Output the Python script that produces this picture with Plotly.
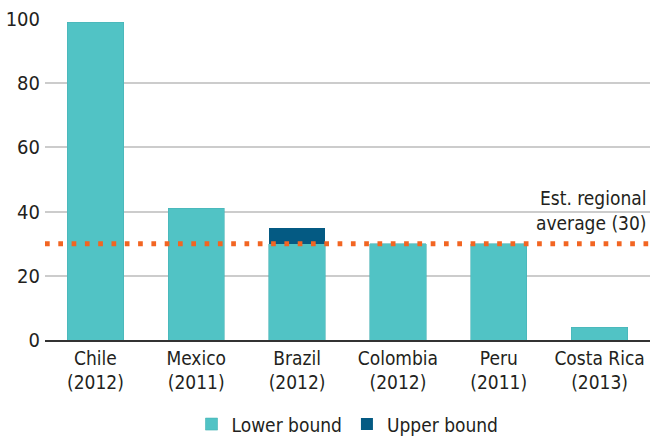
import plotly.graph_objects as go

# Countries (survey year) and estimate bounds
countries = ["Chile<br>(2012)", "Mexico<br>(2011)", "Brazil<br>(2012)",
             "Colombia<br>(2012)", "Peru<br>(2011)", "Costa Rica<br>(2013)"]
lower_bound = [99, 41, 30, 30, 30, 4]
upper_bound = [None, None, 35, None, None, None]
regional_average = 30
y_ticks = [0, 20, 40, 60, 80, 100]

TEAL = "#51c3c5"
NAVY = "#045a83"
ORANGE = "#f26522"
TEXT = "#231f20"
FONT = "DejaVu Sans Condensed, Liberation Sans Narrow, Arial Narrow, sans-serif"
FS = 19

# extra height above the lower bound, stacked on top
upper_extra = [(u - l) if u is not None else None for u, l in zip(upper_bound, lower_bound)]

fig = go.Figure()
fig.add_trace(go.Bar(
    x=countries, y=lower_bound, name="Lower bound",
    marker=dict(color=TEAL, line=dict(color="#47b3b5", width=0.6)),
    width=0.56,
))
fig.add_trace(go.Bar(
    x=countries, y=upper_extra, name="Upper bound",
    marker=dict(color=NAVY, line=dict(width=0)),
    width=0.56,
))

# dotted regional-average line across the plot
fig.add_shape(type="line", xref="paper", x0=0, x1=1,
              y0=regional_average, y1=regional_average,
              line=dict(color=ORANGE, width=5, dash="4.7px,8.6px"),
              layer="above")
fig.add_annotation(xref="paper", x=1, y=regional_average, yref="y",
                   xanchor="right", yanchor="bottom", yshift=8, xshift=-1,
                   text="Est. regional<br>average (30)", showarrow=False,
                   align="right", font=dict(family=FONT, size=FS, color=TEXT))

fig.update_layout(
    width=652, height=441,
    margin=dict(l=45, r=2, t=19, b=101),
    paper_bgcolor="white", plot_bgcolor="white",
    barmode="stack", bargap=0.44,
    font=dict(family=FONT, size=FS, color=TEXT),
    showlegend=True,
    legend=dict(orientation="h", x=0.5, xanchor="center",
                yref="container", y=0.038, yanchor="middle",
                font=dict(family=FONT, size=FS, color=TEXT),
                itemwidth=30, traceorder="normal"),
)
fig.update_yaxes(range=[0, 100], tickvals=y_ticks, showgrid=True,
                 gridcolor="#cccccc", gridwidth=1.5, zeroline=False,
                 showline=False, ticks="", ticklabelstandoff=4, automargin=False,
                 tickfont=dict(family=FONT, size=20, color=TEXT))
fig.update_xaxes(showline=True, linecolor="#333333", linewidth=1.5,
                 ticks="", automargin=False,
                 tickfont=dict(family=FONT, size=FS, color=TEXT))

fig.write_html("out.html")
